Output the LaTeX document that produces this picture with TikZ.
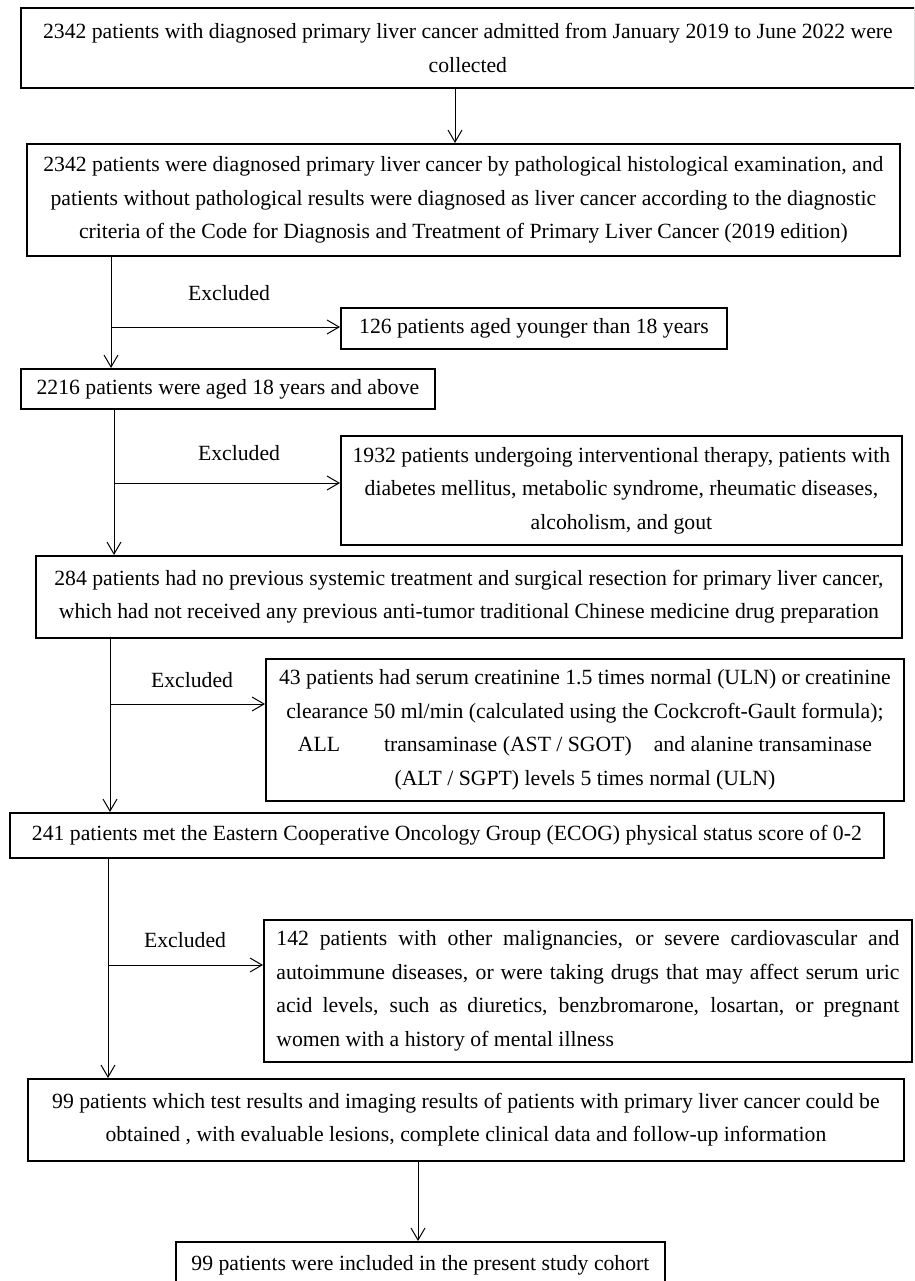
\documentclass[tikz,border=0pt]{standalone}
\usepackage{fontspec}
\setmainfont{Liberation Serif}
\usetikzlibrary{arrows.meta}
\begin{document}
\begin{tikzpicture}[x=1pt,y=-1pt,
  box/.style={draw, line width=1.8pt, inner sep=0pt, anchor=north west, align=center,
    font=\fontsize{21.7}{33.5}\selectfont},
  conn/.style={line width=1pt, -{Straight Barb[length=12pt,width=14pt,line width=1pt]}},
  lbl/.style={font=\fontsize{21.7}{26}\selectfont, inner sep=0pt}]
\useasboundingbox (0,0) rectangle (914,1281);
\clip (0,0) rectangle (914,1281);

\node[box, minimum width=894pt, minimum height=80pt] (b1) at (20,7)
  {2342 patients with diagnosed primary liver cancer admitted from January 2019 to June 2022 were\\collected};
\node[box, minimum width=873pt, minimum height=112pt] (b2) at (26,143)
  {2342 patients were diagnosed primary liver cancer by pathological histological examination, and\\
   patients without pathological results were diagnosed as liver cancer according to the diagnostic\\
   criteria of the Code for Diagnosis and Treatment of Primary Liver Cancer (2019 edition)};
\node[box, minimum width=386pt, minimum height=41pt] (b4) at (340,307)
  {126 patients aged younger than 18 years};
\node[box, minimum width=414pt, minimum height=40pt] (b3) at (20,368)
  {2216 patients were aged 18 years and above};
\node[box, minimum width=561pt, minimum height=109pt] (b6) at (340,435)
  {1932 patients undergoing interventional therapy, patients with\\
   diabetes mellitus, metabolic syndrome, rheumatic diseases,\\
   alcoholism, and gout};
\node[box, minimum width=866pt, minimum height=82pt] (b5) at (35,555)
  {284 patients had no previous systemic treatment and surgical resection for primary liver cancer,\\
   which had not received any previous anti-tumor traditional Chinese medicine drug preparation};
\node[box, minimum width=638pt, minimum height=142pt] (b8) at (265,658)
  {43 patients had serum creatinine 1.5 times normal (ULN) or creatinine\\
   clearance 50 ml/min (calculated using the Cockcroft-Gault formula);\\
   ALL\hspace{44pt}transaminase (AST / SGOT)\hspace{22pt}and alanine transaminase\\
   (ALT / SGPT) levels 5 times normal (ULN)};
\node[box, minimum width=874pt, minimum height=45pt] (b7) at (9,812)
  {241 patients met the Eastern Cooperative Oncology Group (ECOG) physical status score of 0-2};
\node[box, align=justify, text width=623pt, inner xsep=12.5pt, minimum height=142pt] (b9) at (263,919)
  {142 patients with other malignancies, or severe cardiovascular and\linebreak
   autoimmune diseases, or were taking drugs that may affect serum uric\linebreak
   acid levels, such as diuretics, benzbromarone, losartan, or pregnant\linebreak
   women with a history of mental illness};
\node[box, minimum width=876pt, minimum height=82pt] (b10) at (27,1078)
  {99 patients which test results and imaging results of patients with primary liver cancer could be\\
   obtained , with evaluable lesions, complete clinical data and follow-up information};
\node[box, minimum width=489pt, minimum height=46pt] (b11) at (175,1241)
  {99 patients were included in the present study cohort};

\node[lbl] (x1) at (229,293) {Excluded};
\node[lbl] (x2) at (239,453) {Excluded};
\node[lbl] (x3) at (192,680) {Excluded};
\node[lbl] (x4) at (185,940) {Excluded};

\draw[conn] (455,0 |- b1.south) -- (455,0 |- b2.north);
\draw[conn] (111,0 |- b2.south) -- (111,0 |- b3.north);
\draw[conn] (114,0 |- b3.south) -- (114,0 |- b5.north);
\draw[conn] (110,0 |- b5.south) -- (110,0 |- b7.north);
\draw[conn] (108,0 |- b7.south) -- (108,0 |- b10.north);
\draw[conn] (418,0 |- b10.south) -- (418,0 |- b11.north);

\coordinate (j1) at (111,327);
\coordinate (j2) at (114,483);
\coordinate (j3) at (110,704);
\coordinate (j4) at (108,965);
\draw[conn] (j1) -- (j1 -| b4.west);
\draw[conn] (j2) -- (j2 -| b6.west);
\draw[conn] (j3) -- (j3 -| b8.west);
\draw[conn] (j4) -- (j4 -| b9.west);
\end{tikzpicture}
\end{document}
